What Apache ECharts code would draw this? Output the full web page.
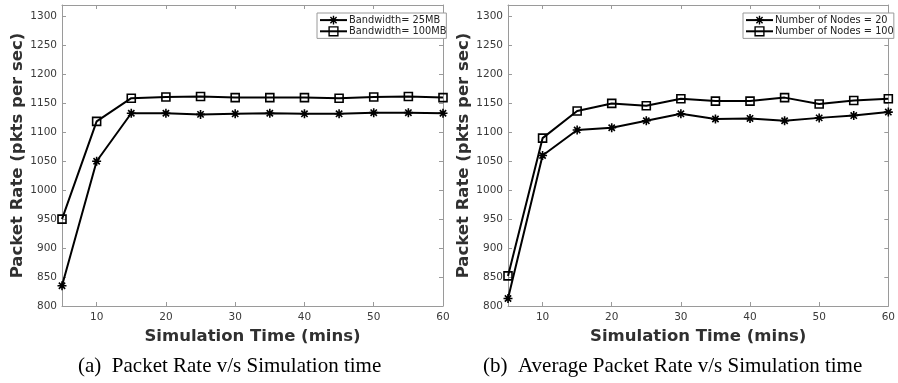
<!DOCTYPE html>
<html>
<head>
<meta charset="utf-8">
<script src="https://cdn.jsdelivr.net/npm/echarts@6/dist/echarts.min.js"></script>
<style>
html,body{margin:0;padding:0;background:#fff;}
#chart{width:898px;height:383px;}
</style>
</head>
<body>
<div id="chart"></div>
<script>
// ---- data ----
const times = [5, 10, 15, 20, 25, 30, 35, 40, 45, 50, 55, 60];
const bw25 = [835, 1050, 1133, 1133, 1131, 1132, 1133, 1132, 1132, 1134, 1134, 1133];
const bw100 = [950, 1119, 1159, 1161, 1162, 1160, 1160, 1160, 1159, 1161, 1162, 1160];
const nodes20 = [813, 1060, 1104, 1108, 1120, 1132, 1123, 1124, 1120, 1125, 1129, 1135];
const nodes100 = [852, 1090, 1137, 1150, 1146, 1158, 1154, 1154, 1160, 1149, 1155, 1158];
const seriesNamesA = ['Bandwidth= 25MB', 'Bandwidth= 100MB'];
const seriesNamesB = ['Number of Nodes = 20', 'Number of Nodes = 100'];
const captionA = '(a)  Packet Rate v/s Simulation time';
const captionB = '(b)  Average Packet Rate v/s Simulation time';
const xTitle = 'Simulation Time (mins)';
const yTitle = 'Packet Rate (pkts per sec)';

const pair = (xs, ys) => xs.map((x, i) => [x, ys[i]]);

const axisColor = '#9a9a9a';
const labelColor = '#3a3a3a';
const STAR = 'path://M0,-10L0,10M-10,0L10,0M-7,-7L7,7M-7,7L7,-7';

const grids = [
  {left: 62, top: 5, width: 381, height: 301},
  {left: 508, top: 5, width: 382, height: 301}
];

const xAxes = [], yAxes = [];
grids.forEach((g, gi) => {
  const baseX = {
    type: 'value', gridIndex: gi, min: 5, max: 60, splitNumber: 5,
    axisLine: {show: true, lineStyle: {color: axisColor, width: 1}},
    axisTick: {show: true, inside: true, length: 4, lineStyle: {color: axisColor}},
    splitLine: {show: false}
  };
  xAxes.push(Object.assign({}, baseX, {
    position: 'bottom',
    name: xTitle, nameLocation: 'middle', nameGap: 17,
    nameTextStyle: {fontFamily: 'DejaVu Sans', fontWeight: 'bold', fontSize: 16.5, color: '#303030'},
    axisLabel: {show: true, margin: 6, fontFamily: 'DejaVu Sans', fontSize: 10.5, color: labelColor,
      formatter: v => (v % 10 === 0 ? String(v) : '')}
  }));
  xAxes.push(Object.assign({}, baseX, {position: 'top', axisLabel: {show: false}}));
  const baseY = {
    type: 'value', gridIndex: gi, min: 800, max: 1320, interval: 50,
    axisLine: {show: true, lineStyle: {color: axisColor, width: 1}},
    axisTick: {show: true, inside: true, length: 4, lineStyle: {color: axisColor}},
    splitLine: {show: false}
  };
  yAxes.push(Object.assign({}, baseY, {
    position: 'left',
    name: yTitle, nameLocation: 'middle', nameGap: 35, nameRotate: 90,
    nameTextStyle: {fontFamily: 'DejaVu Sans', fontWeight: 'bold', fontSize: 16.5, color: '#303030'},
    axisLabel: {show: true, margin: 5, fontFamily: 'DejaVu Sans', fontSize: 10.5, color: labelColor,
      formatter: v => (v % 50 === 0 && v <= 1300 ? String(v) : '')}
  }));
  yAxes.push(Object.assign({}, baseY, {position: 'right', axisLabel: {show: false}}));
});

function mkSeries(name, data, gi, marker) {
  const isStar = marker === 'star';
  return {
    name: name, type: 'line', data: data,
    xAxisIndex: gi * 2, yAxisIndex: gi * 2,
    symbol: isStar ? STAR : 'rect',
    symbolSize: isStar ? 9 : 8,
    showAllSymbol: true,
    lineStyle: {color: '#000', width: 2},
    itemStyle: {color: isStar ? '#000' : 'rgba(0,0,0,0)', borderColor: '#000', borderWidth: 1.6},
    emphasis: {disabled: true},
    animation: false,
    z: 3
  };
}

const legendBase = {
  orient: 'vertical', top: 13, itemWidth: 27, itemHeight: 11, itemGap: 1,
  padding: [2, 0, 2, 2],
  borderColor: axisColor, borderWidth: 1, backgroundColor: '#fff',
  itemStyle: {borderWidth: 1.4},
  lineStyle: {width: 2, color: '#000'},
  textStyle: {fontFamily: 'DejaVu Sans', fontSize: 9.8, color: '#222', padding: [0, 0, 0, -3]},
  selectedMode: false
};

const option = {
  backgroundColor: '#fff',
  animation: false,
  grid: grids,
  xAxis: xAxes,
  yAxis: yAxes,
  legend: [
    Object.assign({}, legendBase, {left: 317, data: seriesNamesA}),
    Object.assign({}, legendBase, {left: 743, data: seriesNamesB})
  ],
  series: [
    mkSeries(seriesNamesA[0], pair(times, bw25), 0, 'star'),
    mkSeries(seriesNamesA[1], pair(times, bw100), 0, 'rect'),
    mkSeries(seriesNamesB[0], pair(times, nodes20), 1, 'star'),
    mkSeries(seriesNamesB[1], pair(times, nodes100), 1, 'rect')
  ],
  graphic: [
    {type: 'text', left: 78, top: 356, style: {text: captionA, font: '21px "Liberation Serif"', fill: '#000'}},
    {type: 'text', left: 483, top: 356, style: {text: captionB, font: '21px "Liberation Serif"', fill: '#000'}}
  ]
};

const chart = echarts.init(document.getElementById('chart'), null, {renderer: 'canvas'});
chart.setOption(option);
</script>
</body>
</html>
